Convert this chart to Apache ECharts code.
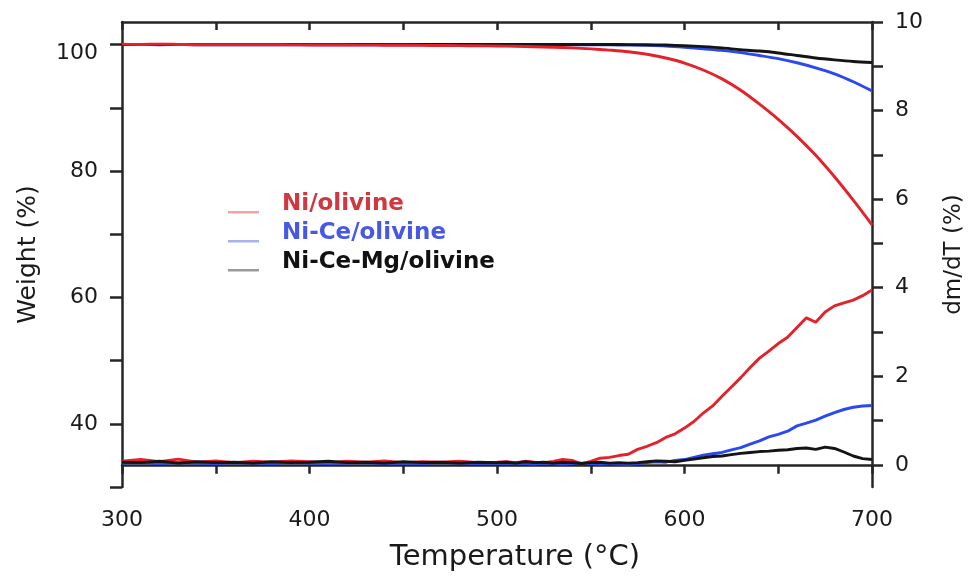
<!DOCTYPE html>
<html>
<head>
<meta charset="utf-8">
<script src="https://cdn.jsdelivr.net/npm/echarts@6/dist/echarts.min.js"></script>
<style>
  html, body { margin: 0; padding: 0; background: #ffffff; }
  #chart { width: 975px; height: 583px; }
</style>
</head>
<body>
<div id="chart"></div>
<script>
// ---------- data ----------
const seriesNames = ['Ni/olivine', 'Ni-Ce/olivine', 'Ni-Ce-Mg/olivine'];

// Weight (TG) curves, every 10 °C
const tgTemps = [300,310,320,330,340,350,360,370,380,390,400,410,420,430,440,450,460,470,480,490,500,
                 510,520,530,540,550,560,570,580,590,600,610,620,630,640,650,660,670,680,690,700];
const tgNi = [100.1,100.05,100.1,100.05,100.0,100.0,100.0,100.0,100.0,99.98,99.97,99.96,99.95,99.94,99.93,99.92,99.9,99.88,99.86,99.83,99.8,
              99.75,99.68,99.6,99.5,99.35,99.15,98.9,98.5,97.9,97.1,96.0,94.6,92.8,90.6,88.2,85.5,82.5,79.1,75.4,71.5];
const tgNiCe = [100.05,100.05,100.0,100.05,100.0,100.0,100.02,100.0,100.0,100.0,100.0,100.0,100.0,100.0,100.0,100.0,100.0,100.0,100.0,100.0,100.0,
                100.0,100.0,100.0,100.0,100.0,99.98,99.95,99.9,99.8,99.6,99.35,99.1,98.75,98.3,97.8,97.15,96.35,95.4,94.15,92.7];
const tgNiCeMg = [100.05,100.05,100.05,100.05,100.05,100.05,100.05,100.05,100.05,100.05,100.05,100.05,100.05,100.05,100.05,100.05,100.05,100.05,100.05,100.05,100.05,
                  100.05,100.05,100.05,100.05,100.05,100.05,100.02,100.0,99.95,99.85,99.7,99.5,99.2,99.0,98.7,98.3,97.9,97.6,97.35,97.2];

// Derivative (dm/dT) curves
const dtgTemps = [300,310,320,330,340,350,360,370,380,390,400,410,420,430,440,450,460,470,480,490,500,
                  505,510,515,520,525,530,535,540,545,550,555,560,565,570,575,580,585,590,595,600,
                  605,610,615,620,625,630,635,640,645,650,655,660,665,670,675,680,685,690,695,700];
const dtgNi = [0.08,0.12,0.07,0.13,0.06,0.09,0.05,0.08,0.06,0.09,0.07,0.05,0.08,0.06,0.09,0.05,0.07,0.06,0.08,0.05,0.06,
               0.07,0.05,0.08,0.06,0.05,0.08,0.12,0.10,0.02,0.08,0.15,0.17,0.21,0.24,0.35,0.42,0.50,0.62,0.70,0.83,
               0.98,1.17,1.33,1.55,1.76,1.97,2.20,2.41,2.57,2.74,2.88,3.10,3.32,3.22,3.45,3.59,3.66,3.72,3.82,3.95];
const dtgNiCe = [0.04,0.05,0.03,0.05,0.04,0.03,0.05,0.04,0.03,0.05,0.04,0.03,0.04,0.05,0.03,0.04,0.03,0.05,0.04,0.03,0.04,
                 0.03,0.04,0.03,0.02,0.04,0.03,0.02,0.03,0.04,0.03,0.02,0.03,0.02,0.01,0.03,0.05,0.07,0.06,0.10,0.12,
                 0.17,0.22,0.25,0.28,0.34,0.39,0.47,0.54,0.63,0.69,0.76,0.88,0.94,1.01,1.10,1.18,1.25,1.30,1.33,1.34];
const dtgNiCeMg = [0.06,0.05,0.08,0.04,0.07,0.05,0.06,0.04,0.07,0.05,0.06,0.08,0.05,0.06,0.04,0.07,0.05,0.06,0.04,0.06,0.05,
                   0.06,0.04,0.07,0.05,0.06,0.04,0.06,0.05,0.03,0.05,0.06,0.04,0.05,0.04,0.05,0.07,0.09,0.08,0.07,0.10,
                   0.13,0.16,0.19,0.20,0.23,0.26,0.28,0.30,0.31,0.33,0.34,0.37,0.38,0.35,0.40,0.37,0.29,0.20,0.14,0.12];

// Axis ticks / labels
const xTicks = [300,350,400,450,500,550,600,650,700];
const xLabels = [300,400,500,600,700];
const wTicks = [30,40,50,60,70,80,90,100];
const wLabels = [40,60,80,100];
const dTicks = [0,1,2,3,4,5,6,7,8,9,10];
const dLabels = [0,2,4,6,8,10];

// ---------- styles ----------
const FONT = 'DejaVu Sans';
const TXT = '#1a1a1a';
const AX = '#262626';
const colors = { 'Ni/olivine': '#e3222b', 'Ni-Ce/olivine': '#2b49ee', 'Ni-Ce-Mg/olivine': '#141414' };
const legendText = { 'Ni/olivine': '#d1373e', 'Ni-Ce/olivine': '#4759e2', 'Ni-Ce-Mg/olivine': '#111111' };
const legendIcon = { 'Ni/olivine': '#f2a3a8', 'Ni-Ce/olivine': '#a9b2ee', 'Ni-Ce-Mg/olivine': '#9a9a9a' };
const iconPath = 'path://M0,0L0,0M0,15.5L31,15.5L31,18L0,18Z';

const zip = (xs, ys) => xs.map((x, i) => [x, ys[i]]);
const axisLine = { show: true, lineStyle: { color: AX, width: 2.5 } };
const tickLine = { color: AX, width: 2.5 };

function mkSeries(name, temps, vals, yIdx, smooth, z) {
  return {
    name, type: 'line', xAxisIndex: 0, yAxisIndex: yIdx,
    data: zip(temps, vals), symbol: 'none', showSymbol: false, smooth: smooth,
    lineStyle: { color: colors[name], width: 2.9 }, itemStyle: { color: colors[name] },
    silent: true, z: z
  };
}

const option = {
  animation: false,
  backgroundColor: '#ffffff',
  textStyle: { fontFamily: FONT },
  grid: { left: 122, right: 103, top: 22, bottom: 96 },
  legend: {
    orient: 'vertical', left: 228, top: 193, padding: 0, itemGap: 6,
    itemWidth: 31, itemHeight: 18, selectedMode: false,
    textStyle: { fontFamily: FONT, fontSize: 23, fontWeight: 'bold', padding: [0, 0, 0, 18] },
    data: seriesNames.map(n => ({
      name: n, icon: iconPath,
      itemStyle: { color: legendIcon[n], borderWidth: 0 },
      textStyle: { color: legendText[n], fontFamily: FONT, fontSize: 23, fontWeight: 'bold' }
    }))
  },
  xAxis: [
    {
      type: 'value', min: 300, max: 700, position: 'bottom',
      axisLine: axisLine,
      axisTick: { show: true, inside: false, length: 9, customValues: xTicks, lineStyle: tickLine },
      axisLabel: { customValues: xLabels, margin: 22, fontSize: 22, color: TXT, fontFamily: FONT },
      splitLine: { show: false },
      name: 'Temperature (°C)', nameLocation: 'middle', nameGap: 56,
      nameTextStyle: { fontSize: 29, color: TXT, fontFamily: FONT, padding: [0, 0, 0, 36] }
    },
    {
      type: 'value', min: 300, max: 700, position: 'top',
      axisLine: axisLine,
      axisTick: { show: true, inside: true, length: 8, customValues: xTicks, lineStyle: tickLine },
      axisLabel: { show: false }, splitLine: { show: false }
    }
  ],
  yAxis: [
    {
      type: 'value', min: 30, max: 103.6, position: 'left',
      axisLine: axisLine,
      axisTick: { show: true, inside: false, length: 12, customValues: wTicks, lineStyle: tickLine },
      axisLabel: {
        customValues: wLabels, margin: 24, fontSize: 22, color: TXT, fontFamily: FONT,
        formatter: v => (v === 100 ? '{lo|100}' : String(v)),
        rich: { lo: { fontSize: 22, color: TXT, fontFamily: FONT, padding: [18, 0, 0, 0] } }
      },
      splitLine: { show: false },
      name: 'Weight (%)', nameLocation: 'middle', nameRotate: 90, nameGap: 81,
      nameTextStyle: { fontSize: 25, color: TXT, fontFamily: FONT }
    },
    {
      type: 'value', min: -0.5, max: 10, position: 'right',
      axisLine: axisLine,
      axisTick: { show: true, inside: false, length: 11, customValues: dTicks, lineStyle: tickLine },
      axisLabel: { customValues: dLabels, margin: 23, fontSize: 22, color: TXT, fontFamily: FONT },
      splitLine: { show: false },
      name: 'dm/dT (%)', nameLocation: 'middle', nameRotate: 90, nameGap: 71,
      nameTextStyle: { fontSize: 23, color: TXT, fontFamily: FONT }
    }
  ],
  series: [
    mkSeries('Ni-Ce/olivine', tgTemps, tgNiCe, 0, 0.3, 2),
    mkSeries('Ni-Ce-Mg/olivine', tgTemps, tgNiCeMg, 0, 0.3, 3),
    mkSeries('Ni/olivine', tgTemps, tgNi, 0, 0.3, 4),
    mkSeries('Ni-Ce/olivine', dtgTemps, dtgNiCe, 1, false, 2),
    mkSeries('Ni/olivine', dtgTemps, dtgNi, 1, false, 3),
    mkSeries('Ni-Ce-Mg/olivine', dtgTemps, dtgNiCeMg, 1, false, 4)
  ]
};

const chart = echarts.init(document.getElementById('chart'), null, { renderer: 'canvas' });
chart.setOption(option);
</script>
</body>
</html>
